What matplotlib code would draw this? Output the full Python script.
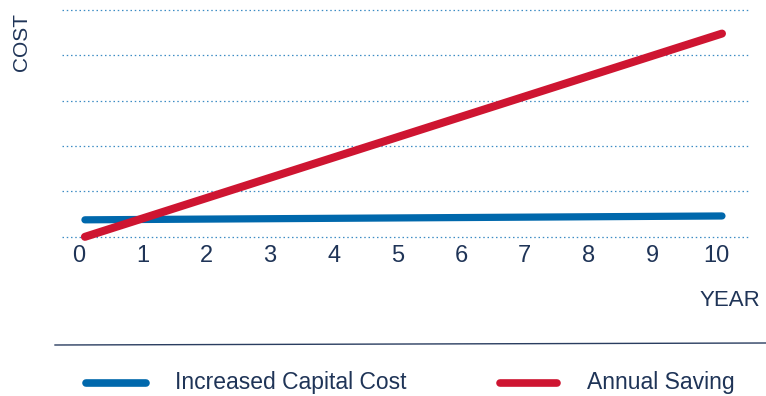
import matplotlib
matplotlib.use("Agg")
import matplotlib.pyplot as plt
from matplotlib.lines import Line2D
import matplotlib.transforms as mtransforms

# data
years = [0, 10]
capital_cost = [0.375, 0.46]
annual_saving = [0.0, 4.48]
tick_years = list(range(0, 11))

navy = '#1f3457'
blue = '#0068ac'
red = '#ce1531'
grid_col = '#3d8cc4'

plt.rcParams['font.family'] = ['Liberation Sans Narrow', 'Liberation Sans', 'DejaVu Sans']

fig = plt.figure(figsize=(7.66, 3.96), dpi=100)
W, H = 766, 396

# main axes: gridlines x 62..750, y pixel 5..245
ax = fig.add_axes([62 / W, 1 - 245 / H, (750 - 62) / W, 240 / H])
ax.set_xlim(-0.36, 10.44)
ax.set_ylim(-0.18, 5.11)

ax.plot(years, capital_cost, color=blue, lw=5.2, solid_capstyle='round', zorder=3)
ax.plot(years, annual_saving, color=red, lw=5.8, solid_capstyle='round', zorder=4)

for gy in range(6):
    ax.axhline(gy, color=grid_col, lw=0.9, ls=(0, (1.2, 2.2)), zorder=1)

for s in ax.spines.values():
    s.set_visible(False)
ax.set_yticks([])
ax.set_xticks(tick_years)
ax.set_xticklabels([str(t) for t in tick_years], fontsize=17, color=navy)
ax.tick_params(axis='x', length=0, pad=0)
off = mtransforms.ScaledTranslation(-6 / 100, 0, fig.dpi_scale_trans)
for lab in ax.get_xticklabels():
    lab.set_transform(lab.get_transform() + off)

fig.text(22 / W, 1 - 42 / H, 'COST', rotation=90, ha='center', va='center',
         fontsize=15, color=navy)
fig.text(760 / W, 1 - 300 / H, 'YEAR', ha='right', va='center',
         fontsize=16, color=navy)

# separator line
fig.add_artist(Line2D([55 / W, 1.0], [1 - 345 / H, 1 - 343 / H],
                      transform=fig.transFigure, color='#2a3d60', lw=1.0))

# legend
fig.add_artist(Line2D([86 / W, 146 / W], [1 - 383 / H] * 2, transform=fig.transFigure,
                      color=blue, lw=5.5, solid_capstyle='round'))
fig.add_artist(Line2D([500 / W, 557 / W], [1 - 383 / H] * 2, transform=fig.transFigure,
                      color=red, lw=5.5, solid_capstyle='round'))
fig.text(175 / W, 1 - 383 / H, 'Increased Capital Cost', ha='left', va='center',
         fontsize=16.5, color=navy)
fig.text(587 / W, 1 - 383 / H, 'Annual Saving', ha='left', va='center',
         fontsize=16.5, color=navy)

fig.savefig('out.png', dpi=100)
